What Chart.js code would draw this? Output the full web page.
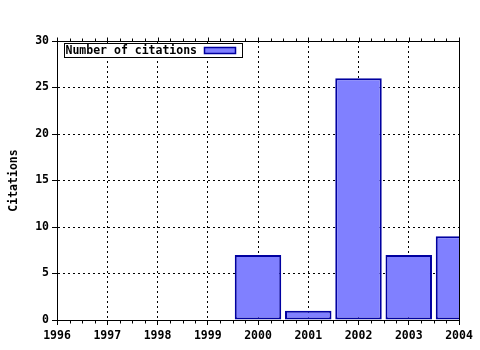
<!DOCTYPE html>
<html>
<head>
<meta charset="utf-8">
<script src="https://cdn.jsdelivr.net/npm/chart.js@4/dist/chart.umd.min.js"></script>
<style>
  html, body { margin: 0; padding: 0; background: #fff; }
  #chart { display: block; }
</style>
</head>
<body>
<canvas id="chart" width="480" height="350"></canvas>
<script>
const years = ["1996", "1997", "1998", "1999", "2000", "2001", "2002", "2003", "2004"];
const citations = [0, 0, 0, 0, 7, 1, 26, 7, 9];
const seriesLabel = "Number of citations";
const axisTitle = "Citations";
const yMin = 0;
const yMax = 30;
const yStep = 5;

const FONT = "DejaVu Sans Mono";
const fillColor = "#8080ff";
const edgeColor = "#0000a0";

Chart.defaults.color = "#000";
Chart.defaults.font.family = FONT;
Chart.defaults.font.size = 11.5;
Chart.defaults.font.weight = "bold";

// frame round the plot, minor ticks on top/bottom, and the boxed legend
const framePlugin = {
  id: "frame",
  afterDatasetsDraw(chart) {
    const ctx = chart.ctx;
    const a = chart.chartArea;
    const x = chart.scales.x;
    const L = Math.round(a.left) + 0.5, R = Math.round(a.right) + 0.5;
    const T = Math.round(a.top) + 0.5, B = Math.round(a.bottom) + 0.5;
    ctx.save();
    ctx.strokeStyle = "#000";
    ctx.lineWidth = 1;
    ctx.setLineDash([]);
    ctx.beginPath();
    ctx.rect(L, T, R - L, B - T);
    // major ticks above the top edge
    for (let i = 0; i < years.length; i++) {
      const px = Math.round(x.getPixelForValue(i)) + 0.5;
      ctx.moveTo(px, T - 4); ctx.lineTo(px, T);
    }
    // minor ticks, quarters of a year
    for (let i = 0; i < years.length - 1; i++) {
      const p0 = x.getPixelForValue(i), p1 = x.getPixelForValue(i + 1);
      for (let k = 1; k < 4; k++) {
        const px = Math.round(p0 + (p1 - p0) * k / 4) + 0.5;
        ctx.moveTo(px, T - 3); ctx.lineTo(px, T);
        ctx.moveTo(px, B); ctx.lineTo(px, B + 3);
      }
    }
    ctx.stroke();

    // legend
    const lx = Math.round(a.left) + 7.5, ly = Math.round(a.top) + 2.5;
    const lw = 178, lh = 14;
    ctx.fillStyle = "#fff";
    ctx.fillRect(lx, ly, lw, lh);
    ctx.strokeRect(lx, ly, lw, lh);
    ctx.fillStyle = "#000";
    ctx.font = "bold 11.5px '" + FONT + "'";
    ctx.textBaseline = "middle";
    ctx.textAlign = "left";
    ctx.fillText(seriesLabel, lx + 1, ly + lh / 2 + 1);
    ctx.fillStyle = fillColor;
    ctx.fillRect(lx + 140, ly + 4, 31, 6);
    ctx.strokeStyle = edgeColor;
    ctx.lineWidth = 1.5;
    ctx.strokeRect(lx + 140, ly + 4, 31, 6);
    ctx.restore();
  }
};

new Chart(document.getElementById("chart"), {
  type: "bar",
  data: {
    labels: years,
    datasets: [{
      label: seriesLabel,
      data: citations,
      backgroundColor: fillColor,
      borderColor: edgeColor,
      borderWidth: 2,
      borderSkipped: false,
      categoryPercentage: 1,
      barPercentage: 0.925,
      clip: 0
    }]
  },
  options: {
    responsive: false,
    animation: false,
    devicePixelRatio: 1,
    layout: { padding: { top: 41, right: 21, left: 0, bottom: 0 } },
    plugins: {
      legend: { display: false },
      tooltip: { enabled: false }
    },
    scales: {
      x: {
        type: "category",
        offset: false,
        grid: {
          offset: false,
          color: "#000",
          lineWidth: 1,
          tickLength: 5,
          tickColor: "#000",
          tickBorderDash: []
        },
        border: { display: true, color: "#000", dash: [2, 3] },
        ticks: { padding: 4, maxRotation: 0, autoSkip: false },
        afterFit(s) { s.height = 30; }
      },
      y: {
        min: yMin,
        max: yMax,
        grid: {
          color: "#000",
          lineWidth: 1,
          tickLength: 5,
          tickColor: "#000",
          tickBorderDash: []
        },
        border: { display: true, color: "#000", dash: [2, 3] },
        ticks: { stepSize: yStep, padding: 3 },
        title: {
          display: true,
          text: axisTitle,
          padding: { top: 7, bottom: 0 },
          font: { family: FONT, size: 11.5, weight: "bold" }
        },
        afterFit(s) { s.width = 57; }
      }
    }
  },
  plugins: [framePlugin]
});
</script>
</body>
</html>
